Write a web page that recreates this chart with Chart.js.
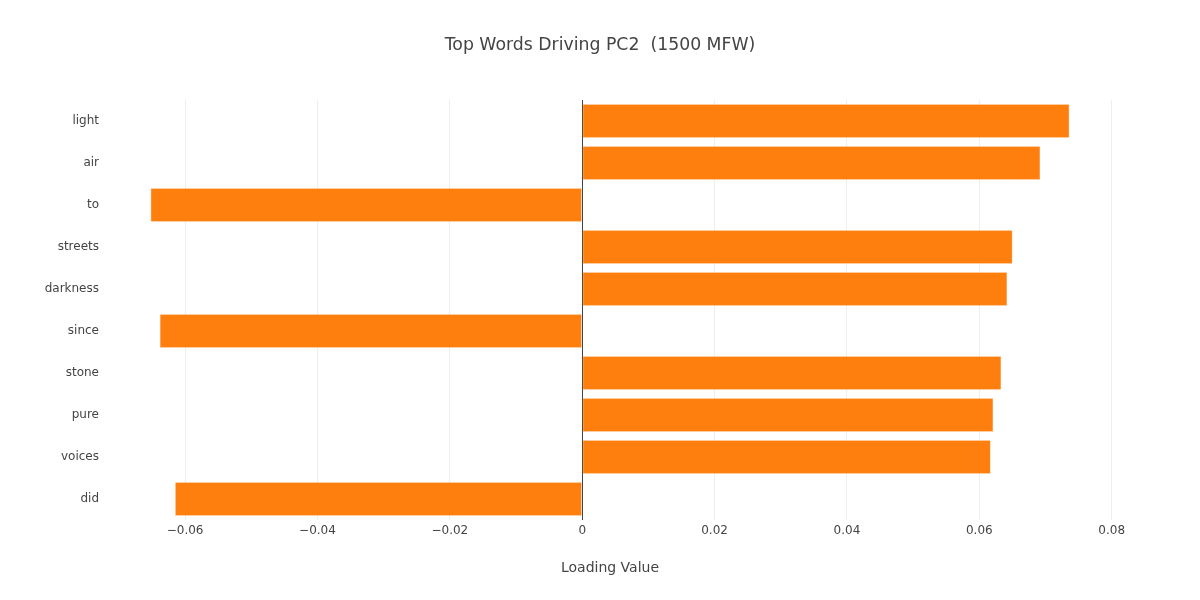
<!DOCTYPE html>
<html><head><meta charset="utf-8">
<script src="https://cdn.jsdelivr.net/npm/chart.js@4"></script>
<style>html,body{margin:0;padding:0;background:#fff;}#wrap{width:1200px;height:600px;}</style>
</head><body><div id="wrap"><canvas id="c" width="1200" height="600"></canvas></div>
<script>
const words = ["light","air","to","streets","darkness","since","stone","pure","voices","did"];
const loadings = [0.0736,0.0692,-0.0652,0.0650,0.0642,-0.0638,0.0633,0.0621,0.0617,-0.0615];
const xTicks = [-0.06,-0.04,-0.02,0,0.02,0.04,0.06,0.08];
const titleText = "Top Words Driving PC2  (1500 MFW)";
const xTitle = "Loading Value";

const FONT = "'DejaVu Sans', Verdana, sans-serif";
const titlePlugin = {
  id: 'ptitle',
  afterDraw(chart) {
    const ctx = chart.ctx;
    ctx.save();
    ctx.fillStyle = '#444';
    ctx.font = "17.3px " + FONT;
    ctx.textAlign = 'center';
    ctx.textBaseline = 'middle';
    ctx.fillText(titleText, 600, 45.5);
    ctx.restore();
  }
};

new Chart(document.getElementById('c'), {
  type: 'bar',
  data: {
    labels: words,
    datasets: [{
      data: loadings,
      backgroundColor: '#ff7f0e',
      borderColor: 'rgba(255,160,80,0.9)',
      borderWidth: 0.5,
      borderSkipped: false,
      barPercentage: 0.8,
      categoryPercentage: 1.0
    }]
  },
  options: {
    indexAxis: 'y',
    responsive: false,
    animation: false,
    layout: { padding: { left: 0, right: 85, top: 100, bottom: 23 } },
    plugins: { legend: { display: false }, tooltip: { enabled: false }, title: { display: false } },
    scales: {
      x: {
        min: -0.0721, max: 0.0805,
        afterFit(scale) { scale.height = 57; },
        ticks: {
          stepSize: 0.02,
          includeBounds: false,
          autoSkip: false,
          maxRotation: 0,
          padding: 4,
          color: '#444',
          font: { family: FONT, size: 12 },
          callback: (v) => {
            const r = Math.round(v * 100) / 100;
            if (Math.abs(r) < 1e-9) return '0';
            return (r < 0 ? '\u2212' : '') + Math.abs(r).toString();
          }
        },
        grid: {
          drawTicks: false,
          color: (c) => (c.tick && Math.abs(c.tick.value) < 1e-9) ? '#444' : '#eeeeee',
          lineWidth: 1
        },
        border: { display: false },
        title: { display: true, text: xTitle, color: '#444', font: { family: FONT, size: 14 }, padding: { top: 12, bottom: 0 } }
      },
      y: {
        afterFit(scale) { scale.width = 105; },
        ticks: { color: '#444', font: { family: FONT, size: 12 }, padding: 6 },
        grid: { display: false, drawTicks: false },
        border: { display: false }
      }
    }
  },
  plugins: [titlePlugin]
});
</script>
</body></html>
